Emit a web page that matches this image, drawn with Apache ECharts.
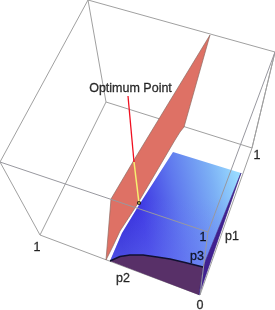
<!DOCTYPE html>
<html><head><meta charset="utf-8">
<style>html,body{margin:0;padding:0;background:#fff}#c{width:275px;height:310px}</style>
<script src="https://cdn.jsdelivr.net/npm/echarts@6/dist/echarts.min.js"></script>
</head><body><div id="c"></div>
<script>
// Box corners (screen-space values on hidden axes)
const boxBack = [[88,0],[275,52],[252,148],[106,102],[88,0],[0,162],[40,235],[106,102]];
const boxBackExtra = [[40,235],[200,295],[252,148],[275,52]];
const boxFront = [[0,162],[208,232],[200,295]];
const boxFrontExtra = [[208,232],[275,52]];
const planePoly = [[210,35],[184,127],[180,132],[175,140],[135,208],[120,231],[113,246],[106,260],[111,199],[137,155]];
const topCurve = [[110,261],[120,256.5],[130,255],[143,255],[157,257],[170,259],[185,262.5],[203,267]];
const surfaceLeft = [[173,152],[139,205],[122,233]];
const surfaceRight = [[241,173]];
const frontBottom = [[199,295]];
const leaderRed = [[128,96],[134,162]];
const leaderYellow = [[134,162],[139,203]];
const optimumPoint = [[139,203]];
const labels = [
  ['Optimum Point',130.5,89],['1',37,248],['1',203,238],['1',257,156],
  ['p1',232,237],['p3',197,257],['p2',123,279],['0',200,306]
];
const surfacePoly = topCurve.concat(surfaceRight, surfaceLeft);
const frontFacePoly = topCurve.concat(frontBottom);
const sideFacePoly = [topCurve[topCurve.length-1], surfaceRight[0], frontBottom[0]];

function poly(points, style, z){
  return {
    type:'custom', coordinateSystem:'cartesian2d', silent:true, z:z,
    clip:false, data:[0],
    renderItem:function(p,api){
      return {type:'polygon',shape:{points:points.map(q=>api.coord(q))},style:style};
    }
  };
}
function line(points,color,width,z){
  return {type:'line',data:points,showSymbol:false,silent:true,z:z,clip:false,
    lineStyle:{color:color,width:width},animation:false};
}
const chart = echarts.init(document.getElementById('c'),null,{renderer:'canvas'});
chart.setOption({
  animation:false,
  backgroundColor:'#fff',
  grid:{left:0,right:0,top:0,bottom:0},
  xAxis:{type:'value',min:0,max:275,show:false},
  yAxis:{type:'value',min:0,max:310,inverse:true,show:false},
  series:[
    line(boxBack,'#a0a0a0',1,1),
    line(boxBackExtra,'#a0a0a0',1,1),
    poly(planePoly,{fill:'#de7165',stroke:'#8f6a62',lineWidth:0.7},3),
    poly(surfacePoly,{fill:new echarts.graphic.LinearGradient(0.05,0.6,1,0.35,[
      {offset:0,color:'#2e22d4'},{offset:0.2,color:'#3c34e2'},
      {offset:0.5,color:'#5f78ee'},{offset:0.8,color:'#7cb0f5'},{offset:1,color:'#98daff'}])},4),
    poly(surfacePoly,{fill:new echarts.graphic.LinearGradient(0,0.4,0,1,[
      {offset:0,color:'rgba(110,130,245,0)'},{offset:1,color:'rgba(110,130,245,0.5)'}])},4),
    poly(frontFacePoly,{fill:'#583068'},5),
    poly(sideFacePoly,{fill:'#402090',stroke:'#341a80',lineWidth:0.6},5),
    line(topCurve,'#101030',1.4,6),
    line(boxFront,'#98989f',1,7),
    line(boxFrontExtra,'#98989f',1,7),
    line(leaderRed,'#f01020',1.3,8),
    line(leaderYellow,'#f6f070',1.5,8),
    {type:'scatter',data:optimumPoint,symbolSize:3,z:9,silent:true,
      itemStyle:{color:'#c8c040',borderColor:'#000',borderWidth:1.2}},
    {type:'scatter',data:labels.map(l=>({value:[l[1],l[2]],name:l[0]})),symbolSize:0,z:10,silent:true,
      label:{show:true,position:'inside',formatter:'{b}',color:'#000',
        fontFamily:'Liberation Sans',fontSize:12.5,textBorderColor:'#000',textBorderWidth:0.3}}
  ]
});
</script></body></html>
